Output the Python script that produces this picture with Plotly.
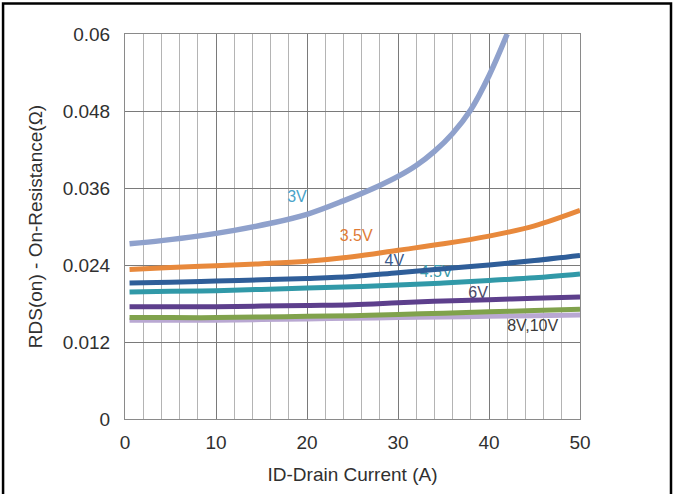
import plotly.graph_objects as go

# Drain current (A) sample points
current = [0.5, 5, 10, 15, 20, 25, 30, 35, 40, 45, 50]
current_3v = [0.5, 4, 8, 12, 16, 20, 24, 28, 30, 32, 34, 36, 38, 40, 42]

# On-resistance (ohm) per gate voltage
rds_3v = [0.0273, 0.0278, 0.0285, 0.0294, 0.0305, 0.0319, 0.0340, 0.0364, 0.0378,
          0.0395, 0.0417, 0.0445, 0.0482, 0.0535, 0.0600]
rds_3v5 = [0.0233, 0.0236, 0.0239, 0.0242, 0.0246, 0.0253, 0.0263, 0.0273, 0.0285, 0.0301, 0.0325]
rds_4v = [0.0212, 0.0213, 0.0215, 0.0217, 0.0219, 0.0222, 0.0228, 0.0234, 0.0240, 0.0247, 0.0255]
rds_4v5 = [0.0198, 0.0199, 0.0200, 0.0202, 0.0204, 0.0206, 0.0209, 0.0212, 0.0216, 0.0220, 0.0226]
rds_6v = [0.0175, 0.0175, 0.0175, 0.0176, 0.0177, 0.0178, 0.0181, 0.0184, 0.0186, 0.0188, 0.0190]
rds_8v = [0.0158, 0.0158, 0.0158, 0.0159, 0.0160, 0.0161, 0.0163, 0.0165, 0.0167, 0.0169, 0.0171]
rds_10v = [0.0154, 0.0154, 0.0154, 0.0155, 0.0156, 0.0157, 0.0158, 0.0159, 0.0160, 0.0161, 0.0162]

# Curve labels and where they sit
label_text = ["3V", "3.5V", "4V", "4.5V", "6V", "8V,10V"]
label_x = [18.9, 25.4, 29.6, 34.2, 38.8, 44.8]
label_y = [0.0344, 0.0283, 0.0245, 0.0227, 0.0195, 0.0143]
label_color = ["#4AA3C9", "#E07B36", "#3B5A8C", "#3A9BAA", "#4A4868", "#3A3A3A"]

y_ticks = [0, 0.012, 0.024, 0.036, 0.048, 0.06]
y_tick_text = ["0", "0.012", "0.024", "0.036", "0.048", "0.06"]
x_fine_ticks = list(range(0, 51, 2))
x_major_ticks = [0, 10, 20, 30, 40, 50]

fig = go.Figure()

# labels first so the curves pass over them
for t, x, y, c in zip(label_text, label_x, label_y, label_color):
    fig.add_trace(go.Scatter(x=[x], y=[y], mode="text", text=[t],
                             textfont=dict(family="Liberation Sans, Arial", size=16, color=c),
                             hoverinfo="skip", showlegend=False))

series = [
    (current, rds_10v, "#B9A8D2", 5),
    (current, rds_8v, "#80A24C", 5),
    (current, rds_6v, "#5D3F8C", 5),
    (current, rds_4v5, "#3199A8", 5),
    (current, rds_4v, "#2F5E99", 5),
    (current, rds_3v5, "#E8893C", 5),
    (current_3v, rds_3v, "#8FA1CC", 5.5),
]
for xs, ys, col, w in series:
    fig.add_trace(go.Scatter(x=xs, y=ys, mode="lines", line=dict(color=col, width=w, shape="spline"),
                             showlegend=False, hoverinfo="skip"))

axis_font = dict(family="Liberation Sans, Arial", size=19, color="#303030")

# light vertical grid every 2 A on the main x axis, labels only every 10 A
fig.update_xaxes(
    range=[0, 50], tickmode="array", tickvals=x_fine_ticks,
    ticktext=[str(v) if v % 10 == 0 else "" for v in x_fine_ticks],
    showgrid=True, gridcolor="#B4B4B4", gridwidth=1,
    showline=True, linecolor="#8A8A8A", linewidth=1, mirror=True, zeroline=False,
    tickfont=axis_font, ticks="", ticklabelstandoff=6,
    title=dict(text="ID-Drain Current (A)", font=dict(family="Liberation Sans, Arial", size=19, color="#303030"),
               standoff=15),
)
# darker grid every 10 A from an overlaid axis
fig.update_layout(xaxis2=dict(
    overlaying="x", matches="x", range=[0, 50], tickmode="array", tickvals=x_major_ticks,
    showticklabels=False, showgrid=True, gridcolor="#7A7A7A", gridwidth=1, zeroline=False, layer="below traces",
))
fig.add_trace(go.Scatter(x=[0], y=[None], xaxis="x2", mode="lines", showlegend=False, hoverinfo="skip"))

fig.update_yaxes(
    range=[0, 0.06], tickvals=y_ticks, ticktext=y_tick_text, showgrid=True, gridcolor="#7A7A7A", gridwidth=1,
    showline=True, linecolor="#8A8A8A", linewidth=1, mirror=True, zeroline=False,
    tickfont=axis_font, ticks="", ticklabelstandoff=10,
    title=dict(text="RDS(on) - On-Resistance(Ω)", font=dict(family="Liberation Sans, Arial", size=19, color="#303030"),
               standoff=15),
)

# frame around the figure (left, top, right)
fig.add_shape(type="path", xref="paper", yref="paper",
              path="M -0.268,-0.3 L -0.268,1.079 L 1.2,1.079 L 1.2,-0.3",
              line=dict(color="black", width=2.5))

fig.update_layout(
    width=674, height=494,
    margin=dict(l=125, r=94, t=34, b=75, autoexpand=False),
    paper_bgcolor="white", plot_bgcolor="white",
)

fig.write_html("out.html")
